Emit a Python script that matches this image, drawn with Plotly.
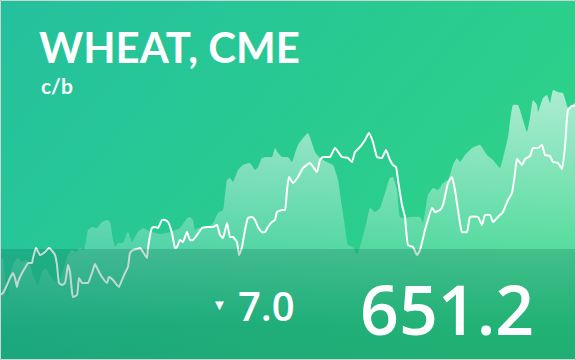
import base64
import plotly.graph_objects as go

# ---- data ----
# Wheat price (c/b) by trading day
price_day = [0,3,7,10,13,15,17,18,22,25,28,32,33,36,40,45,49,53,55,57,59,62,65,68,70,72,73,77,79,82,85,88,92,95,98,102,107,109,113,117,119,122,125,128,130,133,137,140,143,147,148,152,155,158,162,165,168,172,175,177,180,183,187,190,193,197,202,207,213,217,220,223,227,230,233,237,239,242,245,248,252,255,258,262,265,268,272,275,277,282,285,287,289,293,298,303,310,317,320,323,330,335,342,348,352,355,360,365,369,373,377,382,386,390,393,396,398,402,405,408,413,417,420,425,432,435,440,443,448,452,455,458,462,467,470,478,482,485,490,493,498,503,508,512,515,517,522,525,530,533,538,542,545,550,553,558,562,565,568,572,575]
price = [462.2,464.2,472.2,479.2,484.2,479.2,470.2,475.2,484.2,489.2,494.2,494.2,499.2,509.2,502.2,505.2,509.2,505.2,502.2,492.2,474.2,472.2,474.2,492.2,485.2,465.2,460.2,462.2,479.2,474.2,474.2,474.2,484.2,493.2,487.2,480.2,474.2,480.2,477.2,472.2,470.2,477.2,484.2,490.2,504.2,507.2,508.2,509.2,505.2,499.2,509.2,529.2,530.2,529.2,537.2,537.2,535.2,524.2,509.2,510.2,517.2,515.2,525.2,517.2,517.2,522.2,529.2,530.2,530.2,532.2,522.2,519.2,534.2,520.2,520.2,515.2,502.2,510.2,527.2,539.2,540.2,537.2,530.2,525.2,525.2,530.2,535.2,537.2,545.2,547.2,547.2,567.2,580.2,574.2,580.2,589.2,594.2,585.2,597.2,600.2,600.2,609.2,600.2,599.2,595.2,605.2,610.2,617.2,624.2,615.2,600.2,599.2,607.2,597.2,592.2,590.2,577.2,552.2,540.2,512.2,510.2,502.2,507.2,527.2,549.2,545.2,547.2,552.2,574.2,580.2,567.2,547.2,525.2,525.2,540.2,540.2,532.2,542.2,542.2,535.2,540.2,545.2,557.2,564.2,584.2,598.2,592.2,598.2,601.2,609.2,609.2,612.2,602.2,601.2,595.2,594.2,588.2,610.2,647.2,651.2,651.2]

# Secondary series (area), arbitrary units
area_day = [0,3,6,8,10,14,18,22,26,30,33,38,42,46,50,55,60,64,68,72,76,80,84,88,92,97,102,107,110,113,115,118,123,127,128,132,135,138,143,147,152,160,170,180,187,190,193,195,198,207,213,218,223,227,230,233,238,243,250,255,258,262,267,272,275,278,282,288,292,295,298,303,308,312,315,320,327,333,338,342,345,348,353,357,362,367,370,375,380,385,390,393,397,400,405,410,420,423,428,433,438,443,448,453,457,460,465,472,480,487,493,500,503,508,513,518,523,527,530,533,537,538,543,547,550,553,558,563,568,572,575]
area_val = [98,102,70,60,85,98,102,98,100,95,85,75,88,92,85,78,82,92,105,110,108,112,110,130,133,132,138,140,138,120,113,117,117,127,128,118,123,128,132,130,128,126,128,132,142,143,140,130,132,133,137,147,150,180,182,178,190,195,197,190,193,202,203,203,212,207,203,203,198,207,215,222,227,217,208,202,198,195,180,153,133,115,113,105,120,140,152,148,152,167,182,183,170,143,142,143,143,137,165,172,170,177,180,195,202,198,205,212,215,205,200,192,202,223,255,255,240,228,242,260,255,248,262,265,257,270,268,267,252,255,257]

title_text = "WHEAT, CME"
unit_text = "c/b"
change_text = "7.0"
last_text = "651.2"

W, H = 576, 360
BAND_TOP = 249


def svg_uri(svg):
    return "data:image/svg+xml;base64," + base64.b64encode(svg.encode()).decode()


bg_svg = (
    f'<svg xmlns="http://www.w3.org/2000/svg" width="{W}" height="{H}" viewBox="0 0 {W} {H}" preserveAspectRatio="none">'
    '<defs><linearGradient id="g" x1="0" y1="0" x2="1" y2="0.55">'
    '<stop offset="0" stop-color="#24c09e"/><stop offset="1" stop-color="#2dd386"/>'
    '</linearGradient></defs>'
    f'<rect width="{W}" height="{H}" fill="url(#g)"/></svg>'
)
band_h = H - BAND_TOP
band_svg = (
    f'<svg xmlns="http://www.w3.org/2000/svg" width="{W}" height="{band_h}" viewBox="0 0 {W} {band_h}" preserveAspectRatio="none">'
    '<defs><linearGradient id="b" x1="0" y1="0" x2="0" y2="1">'
    '<stop offset="0" stop-color="#005a48" stop-opacity="0.22"/>'
    '<stop offset="1" stop-color="#005a48" stop-opacity="0.3"/>'
    '</linearGradient></defs>'
    f'<rect width="{W}" height="{band_h}" fill="url(#b)"/></svg>'
)

fig = go.Figure()
fig.add_trace(go.Scatter(
    x=area_day, y=area_val, yaxis="y2", mode="lines",
    line=dict(width=0, shape="spline", smoothing=0.4), fill="tozeroy",
    fillgradient=dict(type="vertical", start=0, stop=275,
                      colorscale=[[0, "rgba(255,255,255,0)"], [0.12, "rgba(255,255,255,0)"],
                                  [1, "rgba(255,255,255,0.62)"]]),
    hoverinfo="skip", showlegend=False,
))
fig.add_trace(go.Scatter(
    x=price_day, y=price, mode="lines",
    line=dict(color="white", width=2, shape="spline", smoothing=0.4),
    hoverinfo="skip", showlegend=False,
))

fig.update_layout(
    width=W, height=H, margin=dict(l=0, r=0, t=0, b=0),
    paper_bgcolor="rgba(0,0,0,0)", plot_bgcolor="rgba(0,0,0,0)",
    xaxis=dict(range=[0, 576], visible=False, fixedrange=True),
    yaxis=dict(range=[397.2, 757.2], visible=False),
    yaxis2=dict(range=[0, 360], visible=False, overlaying="y"),
    images=[
        dict(source=svg_uri(bg_svg), xref="paper", yref="paper", x=0, y=1, sizex=1, sizey=1,
             xanchor="left", yanchor="top", sizing="stretch", layer="below"),
        dict(source=svg_uri(band_svg), xref="paper", yref="paper", x=0, y=1 - BAND_TOP / H,
             sizex=1, sizey=band_h / H, xanchor="left", yanchor="top", sizing="stretch", layer="above"),
    ],
    shapes=[dict(type="rect", xref="paper", yref="paper", x0=0.5 / W, x1=1 - 0.5 / W, y0=0.5 / H, y1=1 - 0.5 / H,
                 line=dict(color="#cdd6d2", width=1), layer="above")],
    showlegend=False,
)

def ann(text, x, y, size, weight=700, family="Open Sans"):
    fig.add_annotation(text=text, x=x / W, y=1 - y / H, xref="paper", yref="paper", showarrow=False,
                       xanchor="left", yanchor="middle", align="left",
                       font=dict(family=family, size=size, color="white", weight=weight))

ann(title_text, 37, 47.5, 42, 700, "Lato")
ann(unit_text, 39, 85.8, 21, 700, "Lato")
ann("▼", 210, 304, 15, 400)
ann(change_text, 236, 305, 40, 600)
ann(last_text, 358, 308, 68, 600)

fig.write_html("out.html")
